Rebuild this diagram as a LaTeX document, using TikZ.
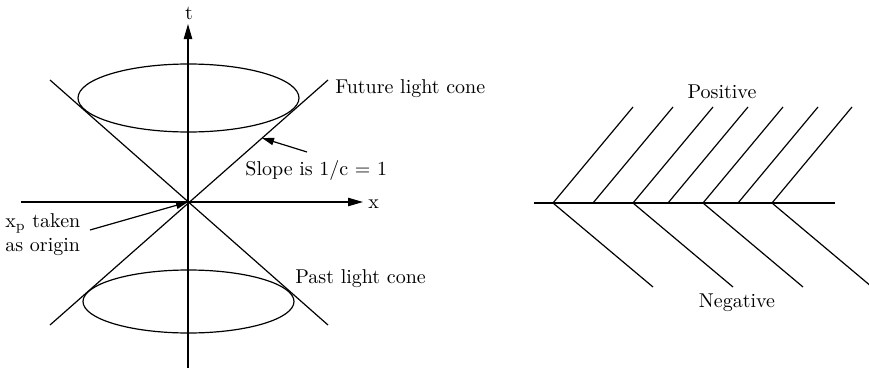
\documentclass[tikz,border=0pt]{standalone}
\usetikzlibrary{arrows.meta}

\begin{document}
\begin{tikzpicture}[
    x=0.5pt, y=0.5pt,
    ln/.style={line width=0.6pt},
    ax/.style={line width=0.6pt, -{Triangle[length=7.5pt, width=4.2pt]}},
    ptr/.style={line width=0.6pt, -{Triangle[length=6pt, width=3.6pt]}},
    lab/.style={inner sep=0pt, anchor=west, align=left},
  ]
    \useasboundingbox (0,0) rectangle (869,371);

    % =================== light cone ===================
    \coordinate (O)     at (188,169);
    \coordinate (tbot)  at (188,3);
    \coordinate (ttop)  at (188,347);
    \coordinate (xlft)  at (21,169);
    \coordinate (xrgt)  at (363,169);
    \draw[ax] (tbot) -- (ttop);
    \draw[ax] (xlft) -- (xrgt);
    \node[inner sep=0pt] (tlab) at (189,358) {t};
    \node[lab] (xlab) at (368,167) {x};

    % cone edges
    \coordinate (ul) at (50,291);
    \coordinate (ur) at (328,291);
    \coordinate (ll) at (50,46);
    \coordinate (lr) at (328,46);
    \draw[ln] (ul) -- (lr);
    \draw[ln] (ll) -- (ur);

    % sections
    \draw[ln] (188.5,273) ellipse [x radius=110.5, y radius=34];
    \draw[ln] (188.5,69.5) ellipse [x radius=105.5, y radius=31.5];

    % labels
    \node[lab] (future) at (335,282) {Future light cone};
    \node[lab] (past)   at (295,92)  {Past light cone};
    \node[lab] (slope)  at (245,201) {Slope is 1/c = 1};
    \node[lab] (xp)     at (5,136)   {x$_\mathrm{p}$ taken\\as origin};
    \coordinate (slopetail) at (307,219);
    \coordinate (slopetip)  at (262,233);
    \coordinate (xptail)    at (90,141);
    \draw[ptr] (slopetail) -- (slopetip);
    \draw[ptr] (xptail) -- (O);

    % =================== waves ===================
    \coordinate (bl) at (534,168);
    \coordinate (br) at (835,168);
    \draw[ln] (bl) -- (br);
    \coordinate (v1) at (553,168);
    \coordinate (v2) at (633,168);
    \coordinate (v3) at (703,168);
    \coordinate (v4) at (772,168);
    \coordinate (m1) at (593,168);
    \coordinate (m2) at (668,168);
    \coordinate (m3) at (738,168);
    % upper
    \draw[ln] (v1) -- ++(80,96);
    \draw[ln] (m1) -- ++(80,96);
    \draw[ln] (v2) -- ++(80,96);
    \draw[ln] (m2) -- ++(80,96);
    \draw[ln] (v3) -- ++(80,96);
    \draw[ln] (m3) -- ++(80,96);
    \draw[ln] (v4) -- ++(80,96);
    % lower
    \draw[ln] (v1) -- ++(100,-84);
    \draw[ln] (v2) -- ++(100,-84);
    \draw[ln] (v3) -- ++(100,-84);
    \draw[ln] (v4) -- ++(100,-84);
    \node[inner sep=0pt] (pos) at (722,279) {Positive};
    \node[inner sep=0pt] (neg) at (737,68)  {Negative};
  \end{tikzpicture}
\end{document}
